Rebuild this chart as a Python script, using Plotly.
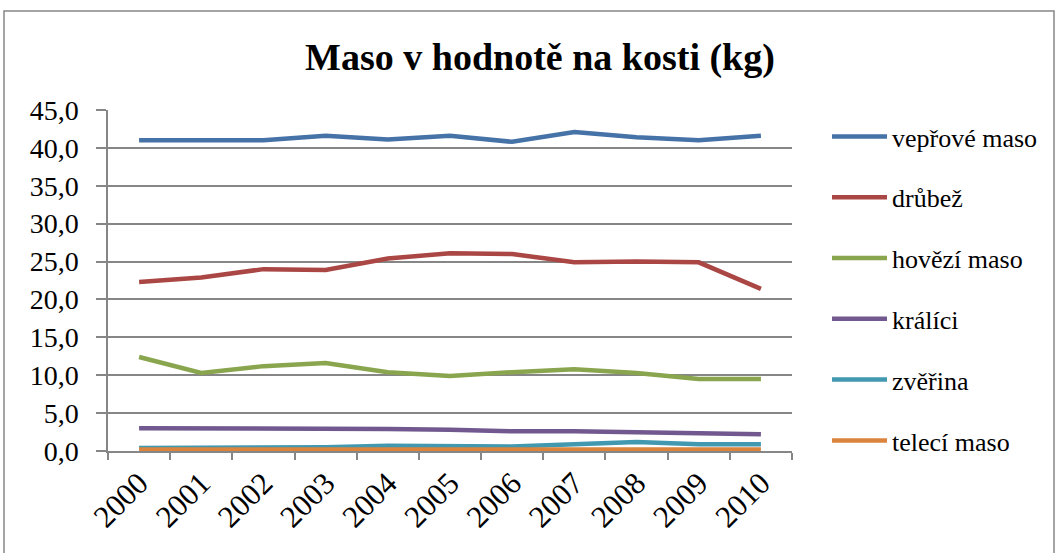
import plotly.graph_objects as go

years = ["2000", "2001", "2002", "2003", "2004", "2005", "2006", "2007", "2008", "2009", "2010"]
veprove = [41.0, 41.0, 41.0, 41.6, 41.1, 41.6, 40.8, 42.1, 41.4, 41.0, 41.6]
drubez = [22.3, 22.9, 24.0, 23.9, 25.4, 26.1, 26.0, 24.9, 25.0, 24.9, 21.4]
hovezi = [12.4, 10.3, 11.2, 11.6, 10.4, 9.9, 10.4, 10.8, 10.3, 9.5, 9.5]
kralici = [3.0, 3.0, 3.0, 3.0, 2.9, 2.8, 2.6, 2.6, 2.5, 2.3, 2.2]
zverina = [0.4, 0.4, 0.5, 0.5, 0.7, 0.7, 0.6, 0.9, 1.2, 0.9, 0.9]
teleci = [0.2, 0.2, 0.2, 0.2, 0.2, 0.2, 0.2, 0.2, 0.1, 0.1, 0.2]

series = [
    ("vepřové maso", veprove, "#4572A7"),
    ("drůbež", drubez, "#AA4643"),
    ("hovězí maso", hovezi, "#89A54E"),
    ("králíci", kralici, "#71588F"),
    ("zvěřina", zverina, "#4198AF"),
    ("telecí maso", teleci, "#DB843D"),
]

SERIF = "Liberation Serif"

fig = go.Figure()
for name, vals, col in series:
    fig.add_trace(go.Scatter(x=years, y=vals, name=name, mode="lines",
                             line=dict(color=col, width=4.5), legendgroup=name))

W, H = 1056, 553
L, R, T, B = 108, 792, 110, 451
pw, ph = R - L, B - T

def px(x):
    return (x - L) / pw

def py(y):
    return (B - y) / ph

fig.add_shape(type="rect", xref="paper", yref="paper",
              x0=px(4), x1=px(1054), y0=py(575), y1=py(11),
              line=dict(color="#868686", width=1.5), fillcolor="rgba(0,0,0,0)", layer="below")

fig.update_layout(
    template="none",
    width=W, height=H,
    margin=dict(l=L, r=W - R, t=T, b=H - B, autoexpand=False),
    paper_bgcolor="white", plot_bgcolor="white",
    separators=", ",
    font=dict(family=SERIF, color="black"),
    title=dict(text="<b>Maso v hodnotě na kosti (kg)</b>", xref="container", x=540 / W,
               xanchor="center", yref="container", y=1 - 57 / H, yanchor="middle",
               font=dict(size=38, family=SERIF, color="black")),
    showlegend=True,
    legend=dict(x=px(827), xanchor="left", y=py(113), yanchor="top",
                font=dict(size=26, family=SERIF, color="black"), itemwidth=55,
                tracegroupgap=24, traceorder="grouped", bgcolor="rgba(0,0,0,0)",
                borderwidth=0, maxheight=800),
    xaxis=dict(type="category", tickson="boundaries", ticks="outside", ticklen=7,
               tickcolor="#868686", tickwidth=1.5, showline=True, linecolor="#868686",
               linewidth=1.5, showgrid=False, tickangle=-45, automargin=False,
               tickfont=dict(size=31, family=SERIF), range=[-0.5, 10.5]),
    yaxis=dict(range=[0, 45], dtick=5, tickformat=".1f", ticks="outside", ticklen=10,
               tickcolor="#868686", tickwidth=1.5, showline=True, linecolor="#868686",
               linewidth=1.5, showgrid=True, gridcolor="#868686", gridwidth=1.5,
               zeroline=False, automargin=False, ticklabelstandoff=12,
               tickfont=dict(size=28, family=SERIF)),
)

fig.write_html("out.html", config={"displayModeBar": False},
               post_script="document.body.style.margin='0';document.body.style.overflow='hidden';")
